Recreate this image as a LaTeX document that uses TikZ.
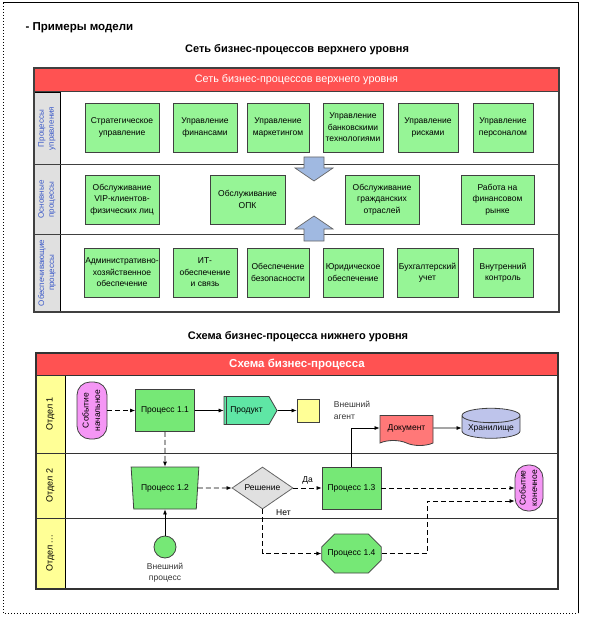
\documentclass[tikz,border=0pt]{standalone}
\usepackage{fontspec}
\setmainfont{Liberation Sans}
\usepackage{tikz}
\usetikzlibrary{arrows.meta,positioning,calc,shapes.geometric,shapes.symbols,shapes.misc}
\definecolor{HeadRed}{RGB}{255,82,82}
\definecolor{BoxGreen}{RGB}{150,245,150}
\definecolor{ProcGreen}{RGB}{118,232,118}
\definecolor{LaneBlue}{RGB}{60,90,200}
\definecolor{LaneYellow}{RGB}{255,255,150}
\definecolor{EventPink}{RGB}{245,150,245}
\definecolor{ProductTeal}{RGB}{95,230,165}
\definecolor{DocRed}{RGB}{255,120,120}
\definecolor{StoreBlue}{RGB}{190,196,235}
\definecolor{ArrowBlue}{RGB}{160,185,225}

\begin{document}
\begin{tikzpicture}[x=1pt, y=-1pt, >={Latex[length=5pt,width=4pt]},
    font=\fontsize{8.5}{11.5}\selectfont,
    topbox/.style={draw=black!75, line width=0.8pt, fill=BoxGreen, minimum height=49pt, align=center, inner sep=1pt},
    procbox/.style={draw=black!75, line width=0.8pt, fill=ProcGreen, minimum width=59pt, minimum height=42pt, align=center, inner sep=1pt},
    eventbox/.style={draw=black!75, line width=0.8pt, fill=EventPink, rounded corners=13pt, inner sep=0pt},
    lanetext/.style={rotate=90, align=center, text=LaneBlue, font=\fontsize{8}{10}\selectfont},
    depttext/.style={rotate=90, font=\fontsize{9}{11}\selectfont},
    link/.style={->, line width=0.7pt},
    dashlink/.style={->, line width=0.7pt, dash pattern=on 5pt off 3pt},
    blockarrow/.style={draw=black!60, fill=ArrowBlue, line width=0.7pt}]
  \useasboundingbox (0,0) rectangle (588,620);
  \draw[line width=1pt] (3,3) -- (578,3) -- (578,613);
  \draw[line width=1pt, dotted] (3,3) -- (3,613) -- (578,613);

  \node[anchor=west, font=\bfseries\fontsize{11.5}{13}\selectfont] (title) at (22,28) {- Примеры модели};
  \node[font=\bfseries\fontsize{11}{13}\selectfont] (topCap) at (297,50) {Сеть бизнес-процессов верхнего уровня};
  \node[font=\bfseries\fontsize{11}{13}\selectfont] (botCap) at (298,337) {Схема бизнес-процесса нижнего уровня};

  % upper level network
  \node[fill=HeadRed, minimum width=525pt, minimum height=24pt, text=white, font=\fontsize{10.8}{12}\selectfont] (topHead) at (296.5,80) {Сеть бизнес-процессов верхнего уровня};
  \draw[fill=black!12] (34,92) rectangle (60,312);
  \draw[line width=1pt, black!75] (34,92) -- (559,92);
  \draw[line width=1pt, black!75] (34,165) -- (559,165);
  \draw[line width=1pt, black!75] (34,234) -- (559,234);
  \draw[line width=1.2pt, black!75] (34,68) rectangle (559,312);
  \node[lanetext] (laneMgmt) at (47,128.5) {Процессы\\управления};
  \node[lanetext] (laneCore) at (47,199.5) {Основные\\процессы};
  \node[lanetext] (laneSupp) at (47,273) {Обеспечивающие\\процессы};

  \node[topbox, minimum width=74pt] (strat) at (122,127.5) {Стратегическое\\управление};
  \node[topbox, minimum width=64pt] (fin) at (205,127.5) {Управление\\финансами};
  \node[topbox, minimum width=62pt] (mkt) at (278,127.5) {Управление\\маркетингом};
  \node[topbox, minimum width=60pt] (bankTech) at (353,127.5) {Управление\\банковскими\\технологиями};
  \node[topbox, minimum width=60pt] (risk) at (428,127.5) {Управление\\рисками};
  \node[topbox, minimum width=60pt] (staff) at (503,127.5) {Управление\\персоналом};

  \node[topbox, minimum width=74pt] (vip) at (122,199.5) {Обслуживание\\VIP-клиентов-\\физических лиц};
  \node[topbox, minimum width=75pt] (opk) at (247.5,199.5) {Обслуживание\\ОПК};
  \node[topbox, minimum width=74pt] (civil) at (382,199.5) {Обслуживание\\гражданских\\отраслей};
  \node[topbox, minimum width=73pt] (finMkt) at (497.5,199.5) {Работа на\\финансовом\\рынке};

  \node[topbox, minimum width=74pt] (admin) at (122,272.5) {Административно-\\хозяйственное\\обеспечение};
  \node[topbox, minimum width=64pt] (itComm) at (205,272.5) {ИТ-\\обеспечение\\и связь};
  \node[topbox, minimum width=62pt] (secur) at (278,272.5) {Обеспечение\\безопасности};
  \node[topbox, minimum width=60pt] (legal) at (353,272.5) {Юридическое\\обеспечение};
  \node[topbox, minimum width=61pt] (account) at (427.5,272.5) {Бухгалтерский\\учет};
  \node[topbox, minimum width=60pt] (control) at (503,272.5) {Внутренний\\контроль};

  \draw[blockarrow] (304,157) -- (324,157) -- (324,168) -- (333,168) -- (314,181) -- (295,168) -- (304,168) -- cycle;
  \draw[blockarrow] (304,241) -- (324,241) -- (324,229) -- (333,229) -- (314,216) -- (295,229) -- (304,229) -- cycle;

  % lower level process
  \node[fill=HeadRed, minimum width=522pt, minimum height=22pt, text=white, font=\bfseries\fontsize{11.5}{13}\selectfont] (botHead) at (297,364) {Схема бизнес-процесса};
  \draw[fill=LaneYellow] (36,375) rectangle (65,589);
  \draw[line width=1pt, black!80] (36,375) -- (558,375);
  \draw[line width=1pt, black!80] (36,453) -- (558,453);
  \draw[line width=1pt, black!80] (36,518) -- (558,518);
  \draw[line width=1.2pt, black!80] (36,353) rectangle (558,589);
  \node[depttext] (dept1) at (50.5,414) {Отдел 1};
  \node[depttext] (dept2) at (50.5,485.5) {Отдел 2};
  \node[depttext] (dept3) at (50.5,553.5) {Отдел ...};

  \node[eventbox, minimum width=30pt, minimum height=57pt] (evStart) at (92,410.5) {\rotatebox{90}{\begin{tabular}{@{}c@{}}Событие\\начальное\end{tabular}}};
  \node[procbox] (p11) at (165,410.5) {Процесс 1.1};
  \node[signal, signal to=east, signal pointer angle=120, draw=black!75, line width=0.8pt, fill=ProductTeal, minimum width=53pt, minimum height=28pt, inner sep=1pt] (prod) at (246.5,410.5) {Продукт};
  \draw[black!75, line width=0.8pt] ([xshift=3pt]prod.north west) -- ([xshift=3pt]prod.south west);
  \node[draw=black!75, line width=0.8pt, fill=LaneYellow, minimum width=22pt, minimum height=23pt, inner sep=0pt,
        label={[align=left, xshift=11pt, text=black!80]east:{Внешний\\агент}}] (agent) at (308,410.5) {};
  \node[tape, tape bend top=none, tape bend bottom=out and in, tape bend height=5pt, draw=black!75, line width=0.8pt, fill=DocRed, minimum width=53pt, minimum height=30pt, inner sep=1pt] (doc) at (406.5,428) {Документ};
  \node[cylinder, shape border rotate=90, aspect=0.3, draw=black!75, line width=0.8pt, fill=StoreBlue, minimum width=58pt, minimum height=30pt, inner sep=1pt] (store) at (491,428) {Хранилище};

  \node[trapezium, trapezium left angle=78, trapezium right angle=78, shape border rotate=180, trapezium stretches=true, draw=black!75, line width=0.8pt, fill=ProcGreen, minimum width=68pt, minimum height=42pt, inner sep=1pt] (p12) at (165,488) {Процесс 1.2};
  \node[diamond, draw=black!60, line width=0.8pt, fill=black!12, minimum width=61pt, minimum height=42pt, inner sep=0pt] (dec) at (262.5,488) {Решение};
  \node[procbox] (p13) at (351.5,488) {Процесс 1.3};
  \node[eventbox, minimum width=28pt, minimum height=46pt] (evEnd) at (529,488) {\rotatebox{90}{\begin{tabular}{@{}c@{}}Событие\\конечное\end{tabular}}};

  \node[chamfered rectangle, chamfered rectangle xsep=7pt, chamfered rectangle ysep=8pt, draw=black!75, line width=0.8pt, fill=ProcGreen, minimum width=54pt, minimum height=39pt, inner sep=1pt] (p14) at (351.5,553.5) {Процесс 1.4};
  \node[circle, draw=black!75, line width=0.8pt, fill=ProcGreen, minimum size=22pt, inner sep=0pt,
        label={[align=center, yshift=-1pt, text=black!80]below:{Внешний\\процесс}}] (extProc) at (165,547) {};
  \coordinate (jn) at (427,501);

  \draw[dashlink] (evStart) -- (p11);
  \draw[link] (p11) -- (prod);
  \draw[link] (prod) -- (agent);
  \draw[link] (p13) |- (doc);
  \draw[link] (doc) -- (store);
  \draw[dashlink] (p11) -- (p12);
  \draw[dashlink] (p12) -- (dec);
  \draw[dashlink] (dec) -- node[above]{Да} (p13);
  \draw[dashlink] (p13) -- (evEnd);
  \draw[dashlink] (dec) |- node[pos=0.04, right=10pt]{Нет} (p14);
  \draw[dashlink] (p14) -| (jn) -- (jn -| evEnd.west);
  \draw[link] (extProc) -- (p12);
\end{tikzpicture}
\end{document}
